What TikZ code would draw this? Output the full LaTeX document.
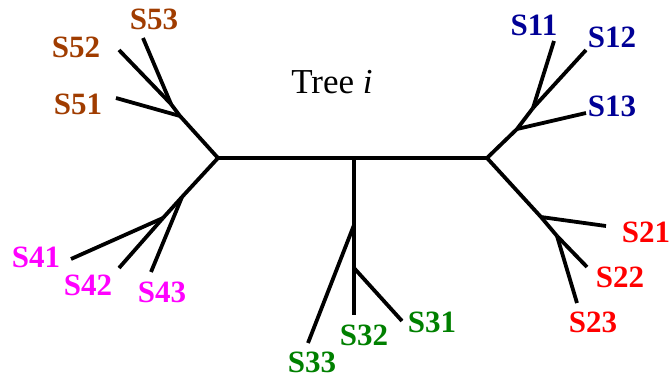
\documentclass[tikz,border=0pt]{standalone}
\usepackage{fontspec}
\setmainfont{Liberation Serif}

\definecolor{leafbrown}{RGB}{160,60,0}
\definecolor{leafblue}{RGB}{0,0,150}
\definecolor{leafred}{RGB}{255,0,0}
\definecolor{leafgreen}{RGB}{0,128,0}
\definecolor{leafmagenta}{RGB}{255,0,255}

\tikzset{every picture/.style={line width=3.8pt}}

\begin{document}
\begin{tikzpicture}[x=1pt,y=1pt,yscale=-1,xscale=1,
  edge/.style={draw=black,line cap=butt,line join=miter},
  leaf/.style={inner sep=0pt,font=\fontsize{31}{31}\selectfont\bfseries}]
\useasboundingbox (0,0) rectangle (670,378);

% inner vertices
\coordinate (L) at (218,158);
\coordinate (R) at (487,158);
\coordinate (M) at (354,158);
% group 5
\coordinate (a5) at (180,116);
\coordinate (b5) at (171,104);
% group 4
\coordinate (a4) at (182,197);
\coordinate (b4) at (163,218);
% group 1
\coordinate (a1) at (517,129);
\coordinate (b1) at (533,108);
% group 2
\coordinate (a2) at (541,217);
\coordinate (b2) at (557,236);
% group 3
\coordinate (a3) at (354,225);
\coordinate (b3) at (354,268);

% leaf ends
\coordinate (e51) at (116,98);
\coordinate (e52) at (119,50);
\coordinate (e53) at (143,38);
\coordinate (e41) at (71,259);
\coordinate (e42) at (119,268);
\coordinate (e43) at (151,272);
\coordinate (e11) at (554,41);
\coordinate (e12) at (586,50);
\coordinate (e13) at (586,113);
\coordinate (e21) at (606,226);
\coordinate (e22) at (587,267);
\coordinate (e23) at (577,303);
\coordinate (e31) at (402,321);
\coordinate (e32) at (354,315);
\coordinate (e33) at (308,343);

% edges
\draw [edge] (L) -- (R) ;
\draw [edge] (L) -- (a5) -- (b5) ;
\draw [edge] (a5) -- (e51) ;
\draw [edge] (b5) -- (e52) ;
\draw [edge] (b5) -- (e53) ;
\draw [edge] (L) -- (a4) -- (b4) ;
\draw [edge] (a4) -- (e43) ;
\draw [edge] (b4) -- (e41) ;
\draw [edge] (b4) -- (e42) ;
\draw [edge] (R) -- (a1) -- (b1) ;
\draw [edge] (a1) -- (e13) ;
\draw [edge] (b1) -- (e11) ;
\draw [edge] (b1) -- (e12) ;
\draw [edge] (R) -- (a2) -- (b2) ;
\draw [edge] (a2) -- (e21) ;
\draw [edge] (b2) -- (e22) ;
\draw [edge] (b2) -- (e23) ;
\draw [edge] (M) -- (e32) ;
\draw [edge] (a3) -- (e33) ;
\draw [edge] (b3) -- (e31) ;

% labels
\node [leaf,text=leafbrown] (s51) at (78,104) {S51};
\node [leaf,text=leafbrown] (s52) at (76,47) {S52};
\node [leaf,text=leafbrown] (s53) at (154,19) {S53};
\node [leaf,text=leafmagenta] (s41) at (36,257) {S41};
\node [leaf,text=leafmagenta] (s42) at (88,285) {S42};
\node [leaf,text=leafmagenta] (s43) at (162,292) {S43};
\node [leaf,text=leafblue] (s11) at (534,25) {S11};
\node [leaf,text=leafblue] (s12) at (612,37) {S12};
\node [leaf,text=leafblue] (s13) at (612,106) {S13};
\node [leaf,text=leafred] (s21) at (646,232) {S21};
\node [leaf,text=leafred] (s22) at (620,277) {S22};
\node [leaf,text=leafred] (s23) at (593,322) {S23};
\node [leaf,text=leafgreen] (s31) at (432,322) {S31};
\node [leaf,text=leafgreen] (s32) at (364,335) {S32};
\node [leaf,text=leafgreen] (s33) at (312,362) {S33};
\node [inner sep=0pt,font=\fontsize{35}{35}\selectfont] (title) at (332,82) {Tree \textit{i}};

\end{tikzpicture}
\end{document}
